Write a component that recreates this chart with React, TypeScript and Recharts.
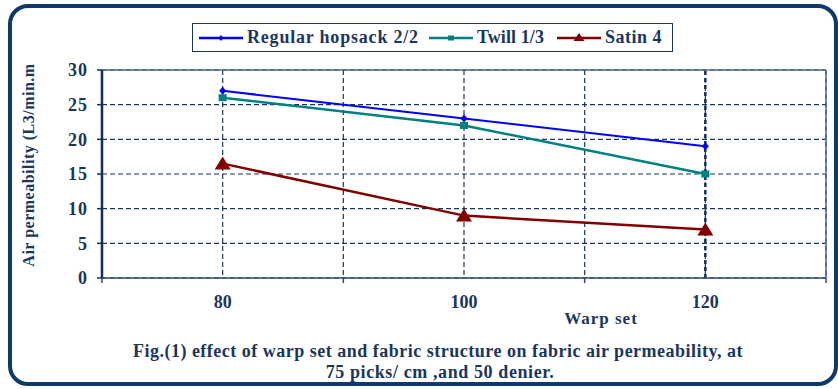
import React from 'react';
import { LineChart, Line, XAxis, YAxis, CartesianGrid, ReferenceLine } from 'recharts';

// Warp set (ends/cm) on the x axis
const warpSets = [80, 100, 120];
// Air permeability for each fabric structure
const hopsack = [27, 23, 19];
const twill = [26, 22, 15];
const satin = [16.5, 9, 7];

const yTicks = [0, 5, 10, 15, 20, 25, 30];
const xTicks = [70, 80, 90, 100, 110, 120, 130];
const labelledX = [80, 100, 120];
const tickMarkX = [70, 90, 110, 130];

const data = warpSets.map((w, i) => ({
  warp: w,
  hopsack: hopsack[i],
  twill: twill[i],
  satin: satin[i],
}));

const NAVY = '#1b365d';
const FONT = 'Liberation Serif';

type MarkerKind = 'diamond' | 'square' | 'triangle';

const series: { key: string; name: string; color: string; width: number; marker: MarkerKind }[] = [
  { key: 'hopsack', name: 'Regular hopsack 2/2', color: '#0000ff', width: 2, marker: 'diamond' },
  { key: 'twill', name: 'Twill 1/3', color: '#008080', width: 2.5, marker: 'square' },
  { key: 'satin', name: 'Satin 4', color: '#800000', width: 2.5, marker: 'triangle' },
];

function Marker({ kind, cx, cy, color }: { kind: MarkerKind; cx: number; cy: number; color: string }) {
  if (kind === 'diamond') {
    return <path d={`M${cx},${cy - 4} L${cx + 3.5},${cy} L${cx},${cy + 4} L${cx - 3.5},${cy} Z`} fill={color} />;
  }
  if (kind === 'square') {
    return <rect x={cx - 4} y={cy - 3.5} width={8} height={7} fill={color} />;
  }
  return <path d={`M${cx},${cy - 7} L${cx + 8},${cy + 6} L${cx - 8},${cy + 6} Z`} fill={color} />;
}

function LegendMarker({ kind, cx, cy, color }: { kind: MarkerKind; cx: number; cy: number; color: string }) {
  if (kind === 'diamond') {
    return <path d={`M${cx},${cy - 3} L${cx + 2.5},${cy} L${cx},${cy + 3} L${cx - 2.5},${cy} Z`} fill={color} />;
  }
  if (kind === 'square') {
    return <rect x={cx - 3} y={cy - 2.5} width={6} height={5} fill={color} />;
  }
  return <path d={`M${cx},${cy - 5} L${cx + 5.5},${cy + 3} L${cx - 5.5},${cy + 3} Z`} fill={color} />;
}

const legendGaps = [6, 10, 13];
const legendSpacing = [0.8, 0.1, 0.5];

function SeriesLegend() {
  return (
    <div
      style={{
        position: 'absolute',
        left: 192,
        top: 23,
        boxSizing: 'border-box',
        width: 481,
        height: 29,
        border: `1.5px solid ${NAVY}`,
        background: '#fff',
        display: 'flex',
        alignItems: 'center',
        fontFamily: FONT,
        fontWeight: 'bold',
        fontSize: 18,
        color: NAVY,
        whiteSpace: 'nowrap',
      }}
    >
      {series.map((s, i) => (
        <div key={s.key} style={{ display: 'flex', alignItems: 'center', marginLeft: legendGaps[i] }}>
          <svg width={44} height={14} style={{ display: 'block' }}>
            <line x1={0} y1={7} x2={44} y2={7} stroke={s.color} strokeWidth={2.5} />
            <LegendMarker kind={s.marker} cx={22} cy={7} color={s.color} />
          </svg>
          <span style={{ marginLeft: 4, letterSpacing: legendSpacing[i] }}>{s.name}</span>
        </div>
      ))}
    </div>
  );
}

function XTick(props: any) {
  const { x, y, payload } = props;
  const v = payload.value;
  return (
    <g>
      {tickMarkX.includes(v) && <line x1={x} y1={y} x2={x} y2={y + 5} stroke="#2b4a78" strokeWidth={1.5} />}
      {labelledX.includes(v) && (
        <text x={x} y={y + 30} textAnchor="middle" fill={NAVY} fontFamily={FONT} fontWeight="bold" fontSize={18}>
          {v}
        </text>
      )}
    </g>
  );
}

export default function App() {
  return (
    <div style={{ position: 'absolute', left: 0, top: 0, width: 838, height: 389, background: '#fff' }}>
      <div
        style={{
          position: 'absolute',
          left: 8,
          top: 4,
          width: 830,
          height: 382,
          boxSizing: 'border-box',
          border: '4px solid #0d3a6a',
          borderRadius: 20,
        }}
      />
      <LineChart
        width={838}
        height={389}
        data={data}
        margin={{ top: 70, right: 12, bottom: 81, left: 0 }}
        style={{ position: 'absolute', left: 0, top: 0 }}
      >
        <CartesianGrid stroke={NAVY} strokeDasharray="5 3" strokeWidth={1.2} />
        <XAxis
          dataKey="warp"
          type="number"
          domain={[70, 130]}
          ticks={xTicks}
          interval={0}
          height={30}
          tickSize={0}
          tickMargin={0}
          tickLine={false}
          axisLine={{ stroke: '#2b4a78', strokeWidth: 1.5 }}
          tick={<XTick />}
        />
        <YAxis
          type="number"
          domain={[0, 30]}
          ticks={yTicks}
          interval={0}
          width={102}
          tickSize={5}
          tickMargin={9}
          axisLine={{ stroke: '#0f2f5c', strokeWidth: 2.5 }}
          tickLine={{ stroke: '#0f2f5c', strokeWidth: 1.5 }}
          tick={{ fill: NAVY, fontFamily: FONT, fontWeight: 'bold', fontSize: 18, letterSpacing: 1 }}
        />
        <ReferenceLine y={30} stroke="#4a6892" strokeWidth={1.5} />
        <ReferenceLine x={130} stroke="#4a6892" strokeWidth={1.5} />
        <ReferenceLine x={warpSets[2]} stroke="#0f2f5c" strokeWidth={2.5} strokeDasharray="4 3" />
        {series.map((s) => (
          <Line
            key={s.key}
            dataKey={s.key}
            name={s.name}
            stroke={s.color}
            strokeWidth={s.width}
            isAnimationActive={false}
            activeDot={false}
            dot={(p: any) => <Marker key={`${s.key}-${p.index}`} kind={s.marker} cx={p.cx} cy={p.cy} color={s.color} />}
          />
        ))}
      </LineChart>
      <SeriesLegend />
      <svg width={838} height={389} style={{ position: 'absolute', left: 0, top: 0, pointerEvents: 'none' }}>
        <g fill={NAVY} fontFamily={FONT} fontWeight="bold">
          <text x={34} y={165} fontSize={16} letterSpacing={0.5} textAnchor="middle" transform="rotate(-90 34 165)">
            Air permeability (L3/min.m
          </text>
          <text x={601} y={324} fontSize={17} letterSpacing={1} textAnchor="middle">
            Warp set
          </text>
          <text x={438} y={357} fontSize={18} letterSpacing={0.5} textAnchor="middle">
            Fig.(1) effect of warp set and fabric structure on fabric air permeability, at
          </text>
          <text x={440} y={378} fontSize={18} letterSpacing={0.6} textAnchor="middle">
            75 picks/ cm ,and 50 denier.
          </text>
        </g>
      </svg>
    </div>
  );
}
